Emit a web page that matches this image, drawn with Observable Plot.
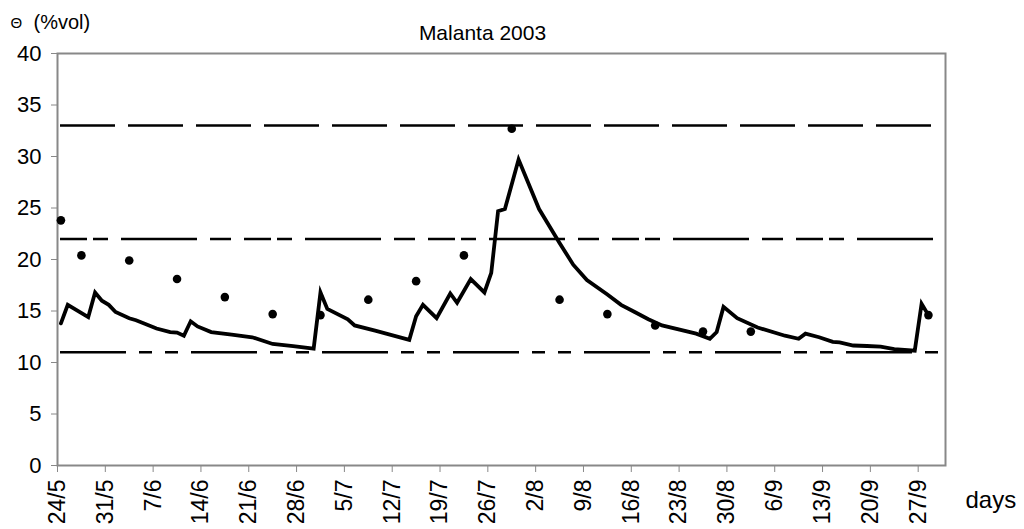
<!DOCTYPE html>
<html>
<head>
<meta charset="utf-8">
<script src="https://cdn.jsdelivr.net/npm/d3@7"></script>
<script src="https://cdn.jsdelivr.net/npm/@observablehq/plot@0.6"></script>
<style>
  html, body { margin: 0; padding: 0; background: #fff; }
  #chart svg { display: block; }
</style>
</head>
<body>
<div id="chart"></div>
<script>
// Simulated soil water content (line), vertices
const lineDates = [
  "2003-05-24","2003-05-25","2003-05-28","2003-05-29","2003-05-30","2003-05-31",
  "2003-06-01","2003-06-03","2003-06-04","2003-06-07","2003-06-09","2003-06-10",
  "2003-06-11","2003-06-12","2003-06-13","2003-06-15","2003-06-18","2003-06-21",
  "2003-06-24","2003-06-27","2003-06-30","2003-07-01","2003-07-02","2003-07-05",
  "2003-07-06","2003-07-09","2003-07-14","2003-07-15","2003-07-16","2003-07-18",
  "2003-07-20","2003-07-21","2003-07-23","2003-07-25","2003-07-26","2003-07-27",
  "2003-07-28","2003-07-30","2003-08-02","2003-08-05","2003-08-07","2003-08-09",
  "2003-08-12","2003-08-14","2003-08-16","2003-08-18","2003-08-20","2003-08-25",
  "2003-08-27","2003-08-28","2003-08-29","2003-08-31","2003-09-03","2003-09-07",
  "2003-09-09","2003-09-10","2003-09-12","2003-09-14","2003-09-15","2003-09-17",
  "2003-09-19","2003-09-21","2003-09-23","2003-09-26","2003-09-27","2003-09-28"
];
const lineValues = [
  13.8, 15.6, 14.4, 16.8, 16.0, 15.6,
  14.9, 14.3, 14.1, 13.3, 12.95, 12.9,
  12.6, 14.0, 13.5, 12.95, 12.7, 12.45,
  11.8, 11.6, 11.35, 16.8, 15.2, 14.2,
  13.6, 13.1, 12.2, 14.5, 15.6, 14.3,
  16.7, 15.8, 18.1, 16.8, 18.7, 24.7,
  24.9, 29.7, 24.9, 21.6, 19.5, 18.0,
  16.6, 15.6, 14.9, 14.2, 13.6, 12.8,
  12.3, 12.95, 15.4, 14.3, 13.4, 12.6,
  12.3, 12.8, 12.45, 12.0, 11.95, 11.65,
  11.6, 11.55, 11.3, 11.15, 15.7, 14.6
];

// Measured values (dots)
const obsDates = [
  "2003-05-24","2003-05-27","2003-06-03","2003-06-10","2003-06-17","2003-06-24",
  "2003-07-01","2003-07-08","2003-07-15","2003-07-22","2003-07-29","2003-08-05",
  "2003-08-12","2003-08-19","2003-08-26","2003-09-02","2003-09-28"
];
const obsValues = [
  23.8, 20.4, 19.9, 18.1, 16.35, 14.7,
  14.6, 16.1, 17.9, 20.4, 32.7, 16.1,
  14.7, 13.6, 13.0, 13.0, 14.6
];

// Reference levels (horizontal dashed lines)
const thresholdValues = [33, 22, 11];

// Axis ticks
const xTickDates = [
  "2003-05-24","2003-05-31","2003-06-07","2003-06-14","2003-06-21","2003-06-28",
  "2003-07-05","2003-07-12","2003-07-19","2003-07-26","2003-08-02","2003-08-09",
  "2003-08-16","2003-08-23","2003-08-30","2003-09-06","2003-09-13","2003-09-20",
  "2003-09-27"
];
const yTicks = [0, 5, 10, 15, 20, 25, 30, 35, 40];
const xDomain = ["2003-05-24", "2003-10-01"];

const titleText = "Malanta 2003";
const yLabelSymbol = "Θ";
const yLabelUnit = "(%vol)";
const xLabelText = "days";

// Each daily value sits in the middle of its day slot
const HALF_DAY = 12 * 3600 * 1000;
const lineData = lineDates.map((d, i) => ({ date: new Date(Date.parse(d) + HALF_DAY), value: lineValues[i] }));
const obsData = obsDates.map((d, i) => ({ date: new Date(Date.parse(d) + HALF_DAY), value: obsValues[i] }));
const fmt = d => `${d.getUTCDate()}/${d.getUTCMonth() + 1}`;

const chart = Plot.plot({
  width: 1024,
  height: 529,
  marginLeft: 57,
  marginRight: 79,
  marginTop: 53,
  marginBottom: 64,
  style: { fontFamily: "'Liberation Sans', Arial, sans-serif", background: "#fff", color: "#000", overflow: "visible" },
  x: { type: "utc", domain: xDomain.map(d => new Date(d)), label: null },
  y: { domain: [0, 40], label: null },
  marks: [
    Plot.frame({ stroke: "#888", strokeWidth: 2 }),
    Plot.axisY({ ticks: yTicks, tickSize: 6, tickPadding: 10, fontSize: 22, stroke: "#888", fill: "#000", label: null }),
    Plot.axisX({ ticks: xTickDates.map(d => new Date(d)), tickFormat: fmt, tickRotate: -90, tickSize: 7, tickPadding: 7, fontSize: 23, stroke: "#888", fill: "#000", label: null }),
    Plot.ruleY([thresholdValues[0]], { stroke: "#000", strokeWidth: 2.5, strokeDasharray: "55,13", insetLeft: 3, insetRight: 2 }),
    Plot.ruleY([thresholdValues[1]], { stroke: "#000", strokeWidth: 2.5, strokeDasharray: "27,6,15,13,76,13,21,13", insetLeft: 3, insetRight: 2 }),
    Plot.ruleY([thresholdValues[2]], { stroke: "#000", strokeWidth: 2.5, strokeDasharray: "66,13,13,13,13,13", insetLeft: 3, insetRight: 2 }),
    Plot.line(lineData, { x: "date", y: "value", stroke: "#000", strokeWidth: 3.8, strokeLinejoin: "miter", strokeMiterlimit: 4 }),
    Plot.dot(obsData, { x: "date", y: "value", r: 4.3, fill: "#000", stroke: null }),
    Plot.text([titleText], { text: d => d, frameAnchor: "top", lineAnchor: "middle", dx: -19, dy: -20, fontSize: 21, fill: "#000" }),
    Plot.text([yLabelSymbol], { text: d => d, frameAnchor: "top-left", lineAnchor: "middle", textAnchor: "start", dx: -47, dy: -30, fontSize: 15, fill: "#000" }),
    Plot.text([yLabelUnit], { text: d => d, frameAnchor: "top-left", lineAnchor: "middle", textAnchor: "start", dx: -24, dy: -31, fontSize: 20, fill: "#000" }),
    Plot.text([xLabelText], { text: d => d, frameAnchor: "bottom-right", lineAnchor: "middle", textAnchor: "start", dx: 20, dy: 35, fontSize: 24, fill: "#000" })
  ]
});
document.getElementById("chart").appendChild(chart);
</script>
</body>
</html>
